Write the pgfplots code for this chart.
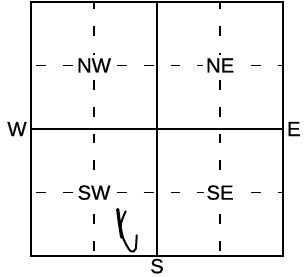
\documentclass[border=0pt]{standalone}
\usepackage{pgfplots}
\pgfplotsset{compat=1.18}
\usepackage{fontspec}
\setmainfont{Liberation Sans}
\newfontfamily\lbl[FakeBold=0.6]{Liberation Sans}
\begin{document}
\begin{tikzpicture}
\begin{axis}[
  scale only axis, width=253bp, height=255bp,
  xmin=-2, xmax=2, ymin=-2, ymax=2,
  axis line style={line width=1.6bp},
  xtick=\empty, ytick=\empty,
  clip=false,
]
\path (axis cs:-2.49,-2.31) rectangle (axis cs:2.316,2.03);
% solid cross
\addplot[black, line width=1.5bp] coordinates {(-2,0) (2,0)};
\addplot[black, line width=1.5bp] coordinates {(0,-2) (0,2)};
% dashed grid
\addplot[black, line width=1.4bp, dash pattern=on 10bp off 17bp, dash phase=-5bp] coordinates {(-2,1) (2,1)};
\addplot[black, line width=1.4bp, dash pattern=on 10bp off 17bp, dash phase=-5bp] coordinates {(-2,-1) (2,-1)};
\addplot[black, line width=1.4bp, dash pattern=on 10bp off 17bp, dash phase=-5bp] coordinates {(-1,-2) (-1,2)};
\addplot[black, line width=1.4bp, dash pattern=on 10bp off 17bp, dash phase=-5bp] coordinates {(1,-2) (1,2)};
% handwritten mark
\addplot[black, line width=3.2pt, line cap=round, line join=round] coordinates {(-0.624,-1.263) (-0.600,-1.45) (-0.561,-1.702)};
\addplot[black, line width=2pt, line cap=round, line join=round, smooth] coordinates {(-0.498,-1.294) (-0.577,-1.514) (-0.530,-1.733) (-0.419,-1.922) (-0.340,-1.890) (-0.324,-1.671)};
% labels
\node[fill=white, inner sep=3bp, font=\lbl\fontsize{20.5}{23}\selectfont] at (axis cs:-1,1) {NW};
\node[fill=white, inner sep=3bp, font=\lbl\fontsize{20.5}{23}\selectfont] at (axis cs:1,1) {NE};
\node[fill=white, inner sep=3bp, font=\lbl\fontsize{20.5}{23}\selectfont] at (axis cs:-1,-1) {SW};
\node[fill=white, inner sep=3bp, font=\lbl\fontsize{20.5}{23}\selectfont] at (axis cs:1,-1) {SE};
\node[font=\lbl\fontsize{20.5}{23}\selectfont] at (axis cs:-2.22,0) {W};
\node[font=\lbl\fontsize{20.5}{23}\selectfont] at (axis cs:2.17,0) {E};
\node[font=\lbl\fontsize{20.5}{23}\selectfont] at (axis cs:0,-2.157) {S};
\end{axis}
\end{tikzpicture}
\end{document}
